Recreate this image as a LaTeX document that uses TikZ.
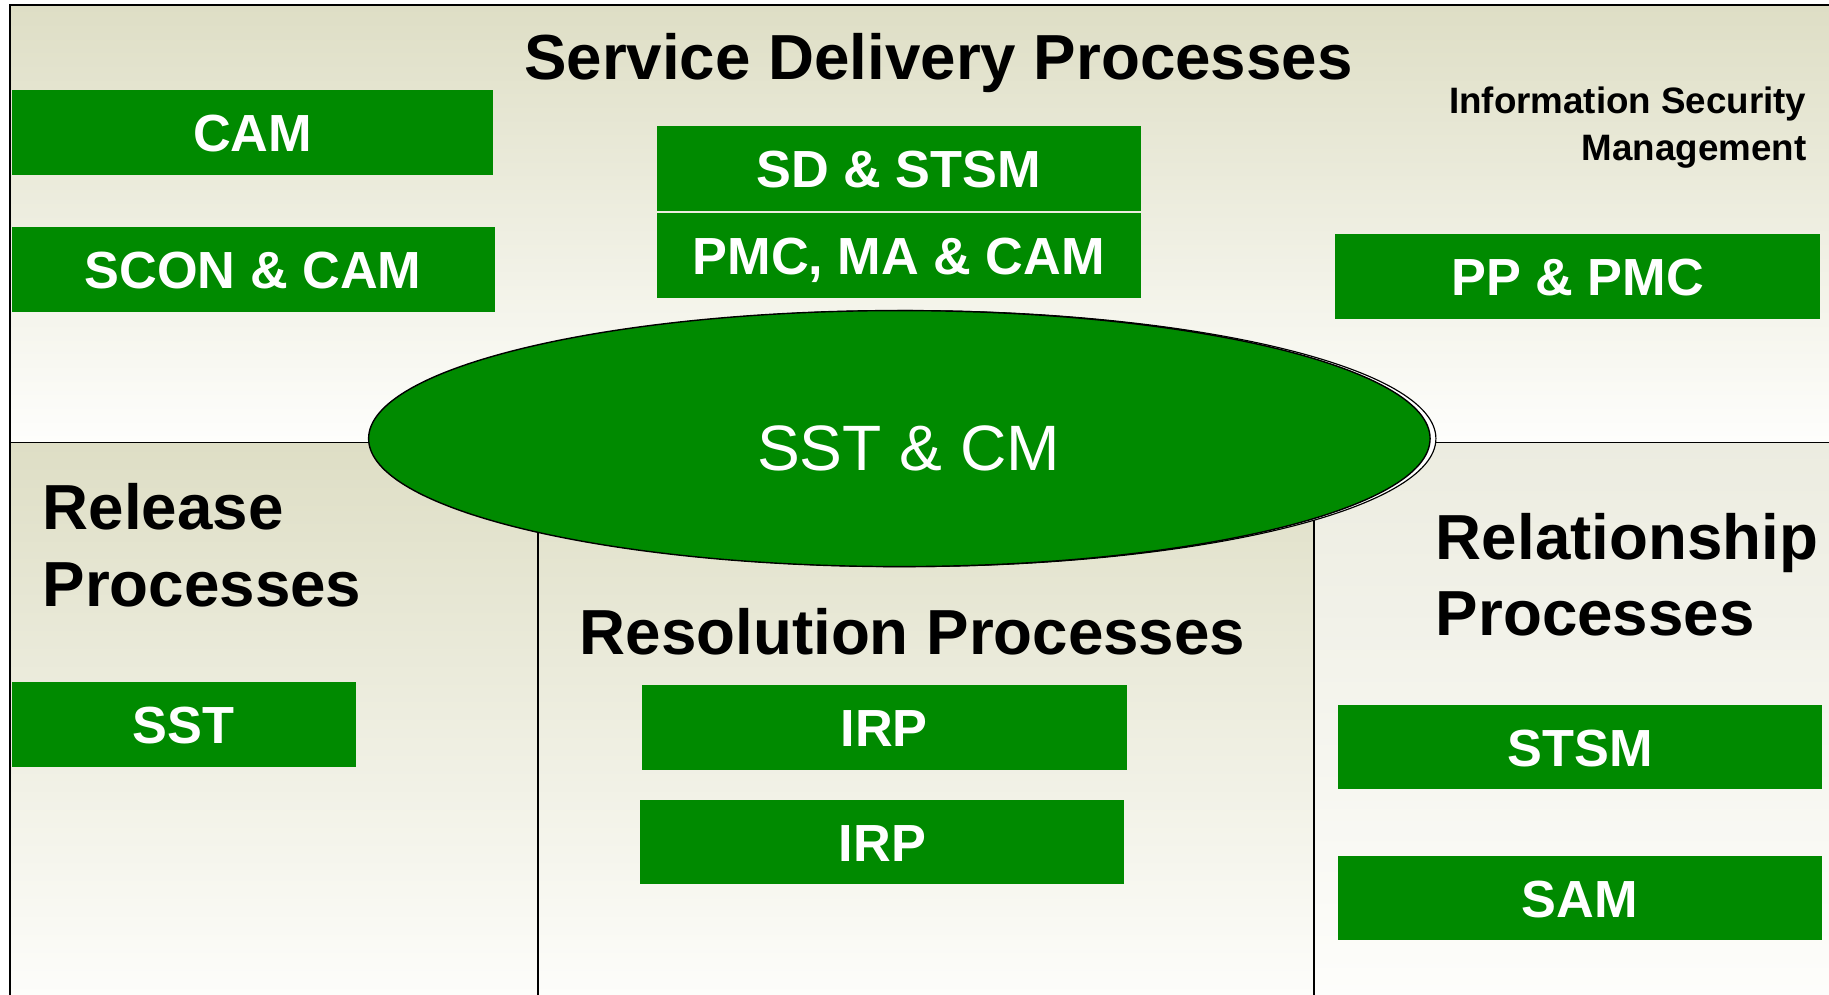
\documentclass[tikz,border=0pt]{standalone}
\usepackage{fontspec}
\setmainfont{Liberation Sans}
\usetikzlibrary{shapes.geometric}
\definecolor{procgreen}{RGB}{0,138,0}
\definecolor{paneltop}{RGB}{222,222,197}
\definecolor{panellight}{RGB}{236,236,224}
\definecolor{panelbottom}{RGB}{254,254,252}

\begin{document}
\begin{tikzpicture}[x=1pt, y=-1pt,
  procbox/.style={fill=procgreen, text=white, inner sep=0pt, minimum height=72.5pt,
    text height=33pt, text depth=0pt, font=\fontsize{44.8}{50}\selectfont\bfseries},
  heading/.style={inner sep=0pt, align=left, font=\fontsize{54.6}{65.5}\selectfont\bfseries},
  frame/.style={draw=black, line width=1.4pt}]
\useasboundingbox (0,0) rectangle (1568,853);
% process areas
\shade[top color=paneltop, bottom color=panelbottom] (8.4,4.3) rectangle (1590,379.5);
\shade[top color=paneltop, bottom color=panelbottom] (8.4,379.5) rectangle (461.2,870);
\shade[top color=paneltop, bottom color=panelbottom] (461.2,379.5) rectangle (1126.4,870);
\shade[top color=panellight, bottom color=panelbottom] (1126.4,379.5) rectangle (1590,870);
\draw[frame] (8.4,870) -- (8.4,4.3) -- (1590,4.3);
\draw[frame] (8.4,379.5) -- (1590,379.5);
\draw[frame] (461.2,379.5) -- (461.2,870);
\draw[frame] (1126.4,379.5) -- (1126.4,870);
% control processes in the middle
\node[ellipse, draw, line width=1pt, fill=white, inner sep=0pt, minimum width=910pt, minimum height=219.5pt] (coreshadow) at (776,376) {};
\node[ellipse, draw, line width=1.2pt, fill=procgreen, inner sep=0pt, minimum width=910pt, minimum height=219.5pt] (core) at (771,376) {};
\node[text=white, inner sep=0pt, font=\fontsize{55}{60}\selectfont, anchor=base] (coretext) at (779,403) {SST \& CM};
% process boxes
\foreach \nm/\x/\y/\w/\txt in {cam/216.5/113.5/413/CAM, scon/217/231/414/SCON \& CAM,
  sdstsm/770.5/144.5/415/SD \& STSM, pmc/770.5/219/415/{PMC, MA \& CAM}, ppmc/1352.5/237/416/PP \& PMC,
  sst/157.5/621/295/SST, irpa/758/623.5/416/IRP, irpb/756.5/722/415/IRP,
  stsm/1354.5/640.5/415/STSM, sam/1354.5/770/415/SAM}
  \node[procbox, minimum width=\w pt] (\nm) at (\x,\y) {\txt};
% area titles
\node[heading, anchor=base] (sdp) at (804.5,68.5) {Service Delivery Processes};
\node[heading, anchor=base] (resp) at (782.3,561.2) {Resolution Processes};
\node[heading, anchor=north west] (relp) at (36.4,414.5) {Release\\Processes};
\node[heading, anchor=north west] (rshp) at (1230.8,439.5) {Relationship\\Processes};
\node[inner sep=0pt, align=right, anchor=north east, font=\fontsize{31.5}{40}\selectfont\bfseries] (ism) at (1548.8,74.5) {Information Security\\Management};
\end{tikzpicture}
\end{document}
